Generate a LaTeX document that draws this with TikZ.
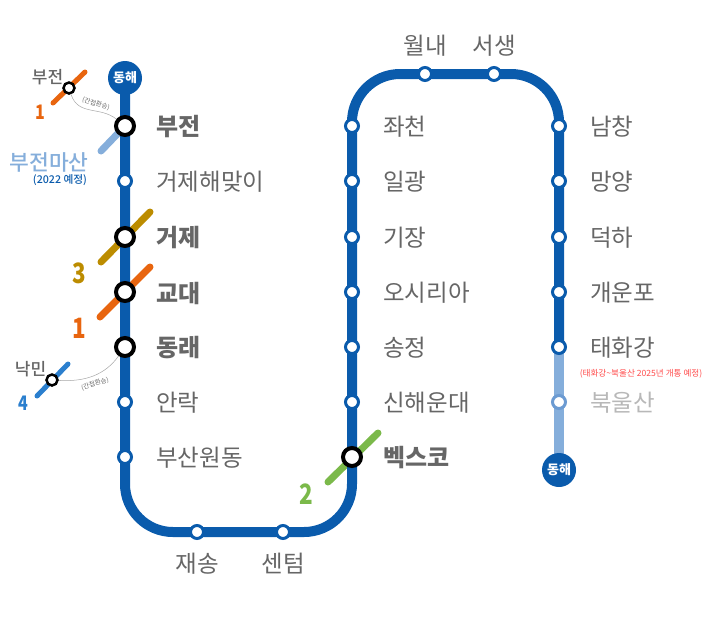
\documentclass[tikz,border=0pt]{standalone}
\usepackage{fontspec}
\setmainfont{Noto Sans CJK KR}
\newfontfamily\medfont{Noto Sans CJK KR Medium}
\usetikzlibrary{backgrounds}
\definecolor{lineblue}{HTML}{0A5BAC}
\definecolor{lightblue}{HTML}{85AEDB}
\definecolor{ringlight}{HTML}{6C9BD2}
\definecolor{textgray}{HTML}{666666}
\definecolor{lineone}{HTML}{E8650F}
\definecolor{linetwo}{HTML}{7BB94A}
\definecolor{linethree}{HTML}{BC8C00}
\definecolor{linefour}{HTML}{2B7FCE}
\tikzset{
  stn/.style={draw=lineblue, circle, line width=3pt, inner sep=0pt, minimum size=13pt, fill=white},
  hub/.style={draw=black, circle, line width=4pt, inner sep=0pt, minimum size=18pt, fill=white},
  smallhub/.style={draw=black, circle, line width=2.5pt, inner sep=0pt, minimum size=11pt, fill=white},
  endstn/.style={circle, inner sep=0pt, minimum size=34pt, fill=lineblue, text=white, font=\bfseries\fontsize{13}{13}\selectfont},
  stnname/.style={inner sep=0pt, yshift=-1pt, text=textgray, font=\fontsize{23.5}{24}\selectfont},
  hubname/.style={inner sep=0pt, yshift=-1pt, text=textgray, font=\bfseries\fontsize{24}{24}\selectfont},
  smallname/.style={inner sep=0pt, xshift=2pt, yshift=-1pt, text=textgray, font=\medfont\fontsize{17}{17}\selectfont},
  linenum/.style={inner sep=0pt, xscale=.8, font=\bfseries\fontsize{28}{28}\selectfont},
  smallnum/.style={inner sep=0pt, xscale=.8, font=\bfseries\fontsize{20}{20}\selectfont},
  walknote/.style={inner sep=0pt, text=textgray, font=\fontsize{6.5}{7}\selectfont},
  mainline/.style={draw=lineblue, line width=10pt},
  xline/.style={line width=7pt, line cap=round},
  xsmall/.style={line width=5pt, line cap=round},
  walk/.style={draw=black!35, line width=.5pt}
}
\begin{document}
\begin{tikzpicture}[x=1pt,y=-1pt]
\useasboundingbox (0,0) rectangle (720,625);
%% Vertices
	\node[endstn] (t1) at (125,78) {동해};
	\node[hub, label={[hubname, label distance=20pt]right: 부전}] (v1) at (125,126) {};
	\node[stn, label={[stnname, label distance=23pt]right: 거제해맞이}] (v2) at (125,181) {};
	\node[hub, label={[hubname, label distance=20pt]right: 거제}] (v3) at (125,237) {};
	\node[hub, label={[hubname, label distance=20pt]right: 교대}] (v4) at (125,292) {};
	\node[hub, label={[hubname, label distance=20pt]right: 동래}] (v5) at (125,347) {};
	\node[stn, label={[stnname, label distance=23pt]right: 안락}] (v6) at (125,402) {};
	\node[stn, label={[stnname, label distance=23pt]right: 부산원동}] (v7) at (125,457) {};
	\node[stn, label={[stnname, label distance=12pt]below: 재송}] (v8) at (197,532) {};
	\node[stn, label={[stnname, label distance=12pt]below: 센텀}] (v9) at (283,532) {};
	\node[hub, label={[hubname, label distance=20pt]right: 벡스코}] (v10) at (352,457) {};
	\node[stn, label={[stnname, label distance=23pt]right: 신해운대}] (v11) at (352,402) {};
	\node[stn, label={[stnname, label distance=23pt]right: 송정}] (v12) at (352,347) {};
	\node[stn, label={[stnname, label distance=23pt]right: 오시리아}] (v13) at (352,292) {};
	\node[stn, label={[stnname, label distance=23pt]right: 기장}] (v14) at (352,237) {};
	\node[stn, label={[stnname, label distance=23pt]right: 일광}] (v15) at (352,181) {};
	\node[stn, label={[stnname, label distance=23pt]right: 좌천}] (v16) at (352,126) {};
	\node[stn, label={[stnname, label distance=10pt]above: 월내}] (v17) at (425,74) {};
	\node[stn, label={[stnname, label distance=10pt]above: 서생}] (v18) at (494,74) {};
	\node[stn, label={[stnname, label distance=23pt]right: 남창}] (v19) at (559,126) {};
	\node[stn, label={[stnname, label distance=23pt]right: 망양}] (v20) at (559,181) {};
	\node[stn, label={[stnname, label distance=23pt]right: 덕하}] (v21) at (559,237) {};
	\node[stn, label={[stnname, label distance=23pt]right: 개운포}] (v22) at (559,292) {};
	\node[stn, label={[stnname, label distance=23pt]right: 태화강}] (v23) at (559,347) {};
	\node[stn, draw=ringlight, label={[stnname, text=black!28, label distance=23pt]right: 북울산}] (v24) at (559,402) {};
	\node[endstn] (t2) at (559,470) {동해};
	\node[smallhub, label={[smallname, label distance=2pt]150: 부전}] (w1) at (69,88) {};
	\node[smallhub, label={[smallname, label distance=2pt]150: 낙민}] (w2) at (52,380) {};
%Corners and line ends
	\coordinate (c1) at (125,532);
	\coordinate (c2) at (352,532);
	\coordinate (c3) at (352,74);
	\coordinate (c4) at (559,74);
	\coordinate (a1) at (53,103);
	\coordinate (a2) at (85,72);
	\coordinate (a3) at (101,151);
	\coordinate (a4) at (150,212);
	\coordinate (a5) at (101,262);
	\coordinate (a6) at (150,267);
	\coordinate (a7) at (100,317);
	\coordinate (a8) at (378,433);
	\coordinate (a9) at (328,482);
	\coordinate (a10) at (37,396);
	\coordinate (a11) at (68,364);
%Texts
	\node[inner sep=0pt, text=lightblue, font=\medfont\fontsize{21.5}{22}\selectfont] (n1) at (49,162) {부전마산};
	\node[inner sep=0pt, text=lineblue, font=\medfont\fontsize{10.7}{11}\selectfont] (n2) at (60,180) {(2022 예정)};
	\node[inner sep=0pt, text=red!70!white, font=\fontsize{8.6}{9}\selectfont] (n3) at (641,374) {(태화강\textasciitilde 북울산 2025년 개통 예정)};
	\node[walknote, rotate=-17] (n4) at (96,104) {(간접환승)};
	\node[walknote, rotate=17] (n5) at (95,384) {(간접환승)};
	\node[smallnum, text=lineone] (k1) at (40,112) {1};
	\node[linenum, text=linethree] (k2) at (79,273) {3};
	\node[linenum, text=lineone] (k3) at (79,328) {1};
	\node[linenum, text=linetwo] (k4) at (306,494) {2};
	\node[smallnum, text=linefour] (k5) at (23,403) {4};
%Edges
\begin{pgfonlayer}{background}
	\path[xsmall, draw=lineone] (a1) edge (a2);
	\path[xsmall, draw=linefour] (a10) edge (a11);
	\path[xline, draw=lightblue] (v1.center) edge (a3);
	\path[xline, draw=linethree] (a4) edge (a5);
	\path[xline, draw=lineone] (a6) edge (a7);
	\path[xline, draw=linetwo] (a8) edge (a9);
	\draw[walk] (w1) .. controls (78,116) and (100,106) .. (v1);
	\draw[walk] (w2) .. controls (85,382) and (105,375) .. (v5);
	\draw[draw=lightblue, line width=10pt] (v23.center) -- (t2.center);
	\draw[mainline, rounded corners=48pt] (t1.center) -- (c1) -- (c2) -- (c3) -- (c4) -- (v23.center);
\end{pgfonlayer}
\end{tikzpicture}
\end{document}
